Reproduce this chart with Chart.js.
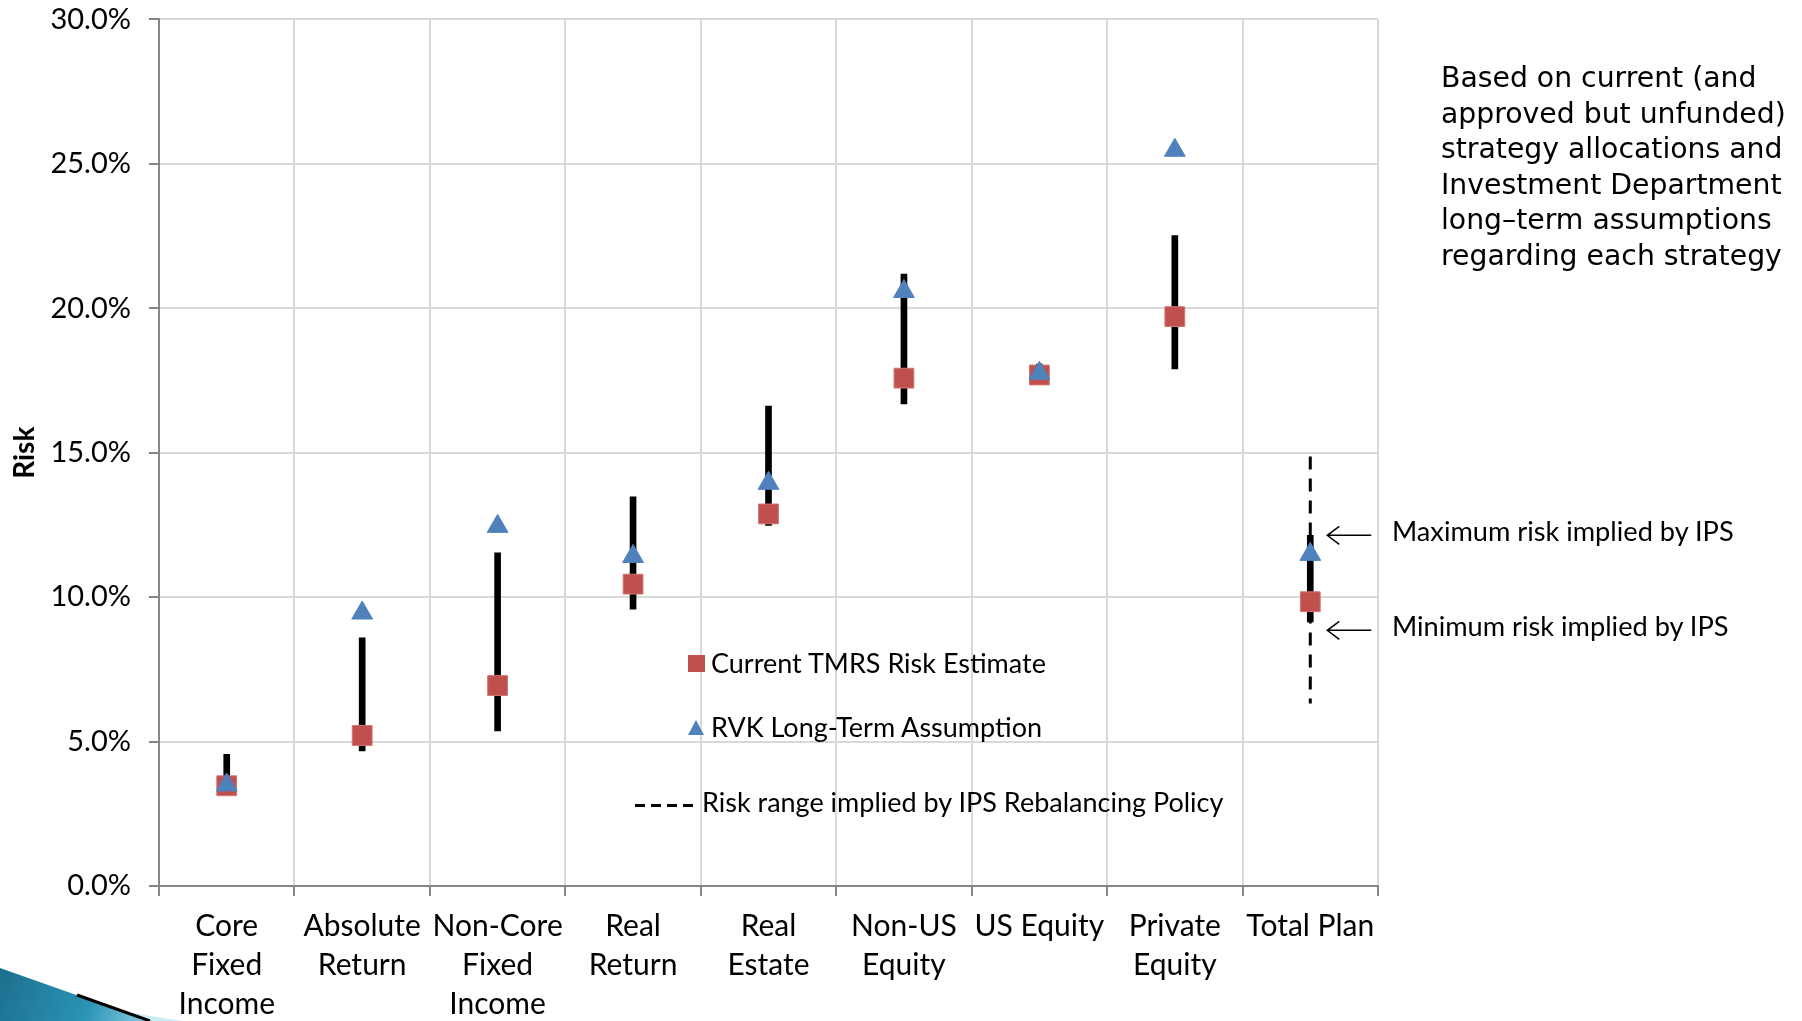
<!DOCTYPE html>
<html>
<head>
<meta charset="utf-8">
<script src="https://cdn.jsdelivr.net/npm/chart.js@4.4.1/dist/chart.umd.min.js"></script>
<style>
  html, body { margin: 0; padding: 0; background: #fff; }
  #wrap { position: relative; width: 1802px; height: 1021px; overflow: hidden; }
  canvas { position: absolute; left: 0; top: -16px; }
  .txt { position: absolute; white-space: nowrap; color: #000; }
  .note { font-family: "DejaVu Sans", sans-serif; font-size: 28.3px; line-height: 35.5px; left: 1441px; top: 60px; }
  .ann { font-family: Lato, "Open Sans", sans-serif; font-size: 27.2px; line-height: 32px; }
  .leg { font-family: Lato, "Open Sans", sans-serif; font-size: 27px; line-height: 32px; }
  .sq { position: absolute; width: 17px; height: 17px; background: #C0504D; }
  .tri { position: absolute; width: 0; height: 0; border-left: 8px solid transparent; border-right: 8px solid transparent; border-bottom: 15px solid #4F81BD; }
  .dash { position: absolute; width: 62px; height: 3px; background: repeating-linear-gradient(90deg, #000 0 10px, transparent 10px 16px); }
</style>
</head>
<body>
<div id="wrap">
  <canvas id="c" width="1802" height="1037"></canvas>
  <div class="txt note">Based on current (and<br>approved but unfunded)<br>strategy allocations and<br>Investment Department<br>long&#8211;term assumptions<br>regarding each strategy</div>
  <div class="txt ann" id="annMax" style="left:1392px;">Maximum risk implied by IPS</div>
  <div class="txt ann" id="annMin" style="left:1392px;">Minimum risk implied by IPS</div>
  <div class="sq" style="left:688px; top:655px;"></div>
  <div class="txt leg" style="left:711px; top:647px;">Current TMRS Risk Estimate</div>
  <div class="tri" style="left:688px; top:720px;"></div>
  <div class="txt leg" style="left:711px; top:711px;">RVK Long-Term Assumption</div>
  <div class="dash" style="left:635px; top:804px;"></div>
  <div class="txt leg" style="left:702px; top:786px;">Risk range implied by IPS Rebalancing Policy</div>
</div>
<script>
// ---- data (percent) ----
const categories = [
  ["Core", "Fixed", "Income"],
  ["Absolute", "Return"],
  ["Non-Core", "Fixed", "Income"],
  ["Real", "Return"],
  ["Real", "Estate"],
  ["Non-US", "Equity"],
  ["US Equity"],
  ["Private", "Equity"],
  ["Total Plan"]
];
const tmrsEstimate = [3.47, 5.21, 6.94, 10.45, 12.88, 17.58, 17.69, 19.71, 9.84];
const rvkAssumption = [3.5, 9.45, 12.45, 11.41, 13.94, 20.58, 17.75, 25.47, 11.48];
const rangeLow  = [3.3, 4.68, 5.37, 9.58, 12.48, 16.69, 17.4, 17.9, 9.14];
const rangeHigh = [4.56, 8.59, 11.53, 13.47, 16.61, 21.18, 18.07, 22.52, 12.14];
const ipsPolicyRange = [14.87, 6.32];      // Total Plan, IPS rebalancing policy range
const ipsMarkers = [12.14, 8.85];          // maximum / minimum risk implied by IPS
const yTicks = [0, 5, 10, 15, 20, 25, 30];

const FONT = 'Lato, "Open Sans", sans-serif';
const CANVAS_SHIFT = 16;

const arrowPlugin = {
  id: 'arrows',
  afterDatasetsDraw(chart) {
    const ctx = chart.ctx;
    const x = chart.scales.x, y = chart.scales.y;
    const xc = x.getPixelForValue(categories.length - 1);
    const ids = ['annMax', 'annMin'];
    ipsMarkers.forEach((v, i) => {
      const py = y.getPixelForValue(v);
      const x0 = xc + 17, x1 = xc + 61;
      ctx.save();
      ctx.strokeStyle = '#000';
      ctx.lineWidth = 1.5;
      ctx.beginPath();
      ctx.moveTo(x1, py); ctx.lineTo(x0, py);
      ctx.moveTo(x0 + 12, py - 9); ctx.lineTo(x0, py); ctx.lineTo(x0 + 12, py + 9);
      ctx.stroke();
      ctx.restore();
      const el = document.getElementById(ids[i]);
      el.style.top = (py - CANVAS_SHIFT - 20) + 'px';
    });
  },
  beforeDraw(chart) {
    const ctx = chart.ctx;
    ctx.save();
    ctx.translate(0, CANVAS_SHIFT);
    ctx.fillStyle = '#c9ecf6';
    ctx.beginPath();
    ctx.moveTo(120, 1011); ctx.lineTo(182, 1021); ctx.lineTo(150, 1021); ctx.closePath(); ctx.fill();
    const g = ctx.createLinearGradient(0, 968, 150, 1021);
    g.addColorStop(0, '#1d6f8e');
    g.addColorStop(0.6, '#2a93b5');
    g.addColorStop(1, '#8fd0e6');
    ctx.fillStyle = g;
    ctx.beginPath();
    ctx.moveTo(0, 968); ctx.lineTo(150, 1021); ctx.lineTo(0, 1021); ctx.closePath(); ctx.fill();
    ctx.strokeStyle = '#000';
    ctx.lineWidth = 3;
    ctx.beginPath();
    ctx.moveTo(77, 995); ctx.lineTo(150, 1021); ctx.stroke();
    ctx.restore();
  }
};

new Chart(document.getElementById('c'), {
  type: 'bar',
  data: {
    labels: categories,
    datasets: [
      {
        type: 'line',
        label: 'RVK Long-Term Assumption',
        data: rvkAssumption,
        showLine: false,
        pointStyle: 'triangle',
        pointRadius: 12,
        pointHoverRadius: 12,
        backgroundColor: '#4F81BD',
        borderColor: '#4F81BD',
        borderWidth: 1,
        order: 0
      },
      {
        type: 'line',
        label: 'Current TMRS Risk Estimate',
        data: tmrsEstimate,
        showLine: false,
        pointStyle: 'rect',
        pointRadius: 14,
        pointHoverRadius: 14,
        backgroundColor: '#C0504D',
        borderColor: '#D07673',
        borderWidth: 1,
        order: 1
      },
      {
        type: 'bar',
        label: 'Range',
        data: rangeLow.map((lo, i) => [lo, rangeHigh[i]]),
        backgroundColor: '#000',
        barThickness: 6,
        order: 2
      },
      {
        type: 'line',
        label: 'Risk range implied by IPS Rebalancing Policy',
        data: ipsPolicyRange.map(v => ({ x: categories[categories.length - 1], y: v })),
        borderColor: '#000',
        borderWidth: 3,
        borderDash: [13, 9],
        pointRadius: 0,
        fill: false,
        order: 3
      }
    ]
  },
  options: {
    responsive: false,
    animation: false,
    events: [],
    layout: { padding: { left: 0, right: 424, top: 1, bottom: 0 } },
    plugins: { legend: { display: false }, tooltip: { enabled: false } },
    scales: {
      x: {
        offset: true,
        grid: { offset: true, color: '#d9d9d9', lineWidth: 2, tickLength: 10, tickColor: '#868686', tickWidth: 2 },
        border: { color: '#868686', width: 2 },
        ticks: { color: '#000', font: { family: FONT, size: 30, lineHeight: 1.3 }, padding: 11, maxRotation: 0, autoSkip: false },
        afterFit(s) { s.height = 135; }
      },
      y: {
        min: 0, max: 30,
        afterBuildTicks(s) { s.ticks = yTicks.map(v => ({ value: v })); },
        grid: { color: '#d9d9d9', lineWidth: 2, tickLength: 10, tickColor: '#868686', tickWidth: 2 },
        border: { color: '#868686', width: 2 },
        ticks: { color: '#000', font: { family: FONT, size: 29 }, padding: 18, callback: v => v.toFixed(1) + '%' },
        title: { display: true, text: 'Risk', color: '#000', font: { family: FONT, size: 28, weight: 'bold' }, padding: { top: 8, bottom: 0 } },
        afterFit(s) { s.width = 159; }
      }
    }
  },
  plugins: [arrowPlugin]
});
</script>
</body>
</html>
